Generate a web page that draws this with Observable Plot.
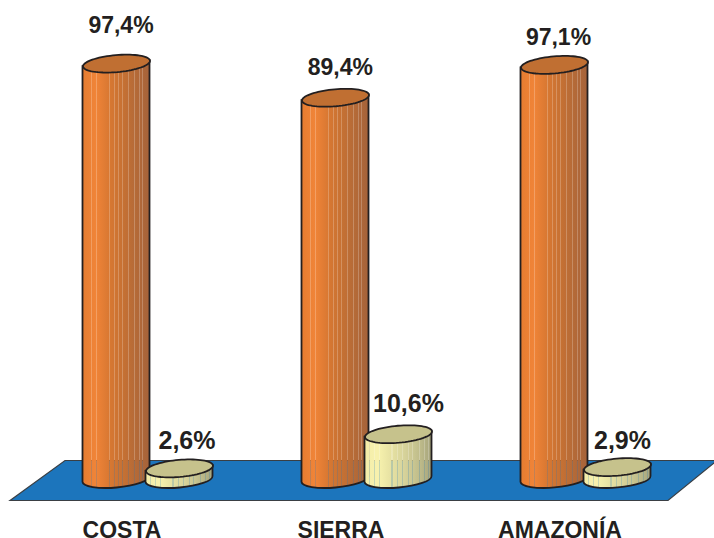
<!DOCTYPE html>
<html><head><meta charset="utf-8">
<script src="https://cdn.jsdelivr.net/npm/d3@7"></script>
<script src="https://cdn.jsdelivr.net/npm/@observablehq/plot@0.6"></script>
<style>html,body{margin:0;padding:0;background:#fff}svg{display:block}</style>
</head><body><div id="chart"></div>
<script>
// Data
const regions = ["COSTA", "SIERRA", "AMAZONÍA"];
const mainValues = [97.4, 89.4, 97.1];
const otherValues = [2.6, 10.6, 2.9];
const mainLabels = ["97,4%", "89,4%", "97,1%"];
const otherLabels = ["2,6%", "10,6%", "2,9%"];

// Style
const main = {body: "url(#orangeBody)", top: "#c06f32", dx: -31.5, fontSize: 23};
const other = {body: "url(#yellowBody)", top: "#c6c28c", dx: 31.5, fontSize: 25};
const ink = "#231f20";
const labelFont = {fontFamily: "Liberation Sans", fontWeight: "bold", fill: ink};
const rx = 33.6, ry = 8.5, tilt = -5;               // cylinder cap, px
const capDy = 2.9;                                  // vertical offset of cap extremes
const mainOffsets = [[4.5, -38], [4.8, -30], [4, -27]];
const otherOffsets = [[7.5, -27], [10, -30], [5, -26]];

const toTable = (values, labels, offsets) => regions.map((region, i) => ({
  region, value: values[i], label: labels[i], ox: offsets[i][0], oy: offsets[i][1]
}));
const mainRows = toTable(mainValues, mainLabels, mainOffsets);
const otherRows = toTable(otherValues, otherLabels, otherOffsets);

// Tilted ellipse as a Plot symbol
const cap = {
  draw(ctx) {
    const c = Math.cos(tilt * Math.PI / 180), s = Math.sin(tilt * Math.PI / 180);
    for (let i = 0; i < 72; ++i) {
      const t = i / 72 * 2 * Math.PI, a = rx * Math.cos(t), b = ry * Math.sin(t);
      const px = a * c - b * s, py = a * s + b * c;
      if (i) ctx.lineTo(px, py); else ctx.moveTo(px, py);
    }
    ctx.closePath();
  }
};
// Floor parallelogram as a Plot symbol, placed on the axis at SIERRA
const floorShape = {
  draw(ctx) {
    ctx.moveTo(-357, 21); ctx.lineTo(-302, -19); ctx.lineTo(350, -19); ctx.lineTo(301, 21); ctx.closePath();
  }
};
// Turn each bar's rect into a cylinder side: straight walls and a rounded bottom
const cylinder = (index, scales, values, dimensions, context, next) => {
  const g = next(index, scales, values, dimensions, context);
  d3.select(g).selectAll("rect").each(function() {
    const r = d3.select(this);
    const x = +r.attr("x"), y = +r.attr("y"), w = +r.attr("width"), h = +r.attr("height");
    const p = document.createElementNS("http://www.w3.org/2000/svg", "path");
    p.setAttribute("d", `M${x},${y + capDy}L${x},${y + h + capDy}A${rx},${ry} ${tilt} 0 0 ${x + w},${y + h - capDy}L${x + w},${y - capDy}Z`);
    this.parentNode.replaceChild(p, this);
  });
  return g;
};

const cylinderMarks = (rows, s) => [
  Plot.barY(rows, {x: "region", y: "value", dx: s.dx, fill: s.body, stroke: ink, strokeWidth: 1.8, render: cylinder}),
  Plot.dot(rows, {x: "region", y: "value", dx: s.dx, symbol: cap, r: 10, fill: s.top, stroke: ink, strokeWidth: 1.8})
];
const labelMarks = (rows, s) => rows.map(d => Plot.text([d], {
  x: "region", y: "value", text: "label", dx: d.ox + s.dx, dy: d.oy, fontSize: s.fontSize, ...labelFont
}));

const chart = Plot.plot({
  width: 714, height: 538,
  marginTop: 52, marginBottom: 8, marginLeft: 113.5, marginRight: 94,
  style: {background: "transparent"},
  x: {type: "band", domain: regions, range: [113.5, 620], paddingInner: 0.695, paddingOuter: 0, label: null, axis: null},
  y: {domain: [0, 100], range: [479, 52], label: null, axis: null},
  marks: [
    Plot.dot(["SIERRA"], {x: d => d, y: () => 0, symbol: floorShape, r: 10, fill: "#1c75bc", stroke: "#3a3f44", strokeWidth: 1.2}),
    ...cylinderMarks(mainRows, main),
    ...cylinderMarks(otherRows, other),
    ...labelMarks(mainRows, main),
    ...labelMarks(otherRows, other),
    Plot.axisX({anchor: "bottom", tickSize: 0, tickPadding: 0, lineAnchor: "middle", dx: -26, fontFamily: "Liberation Sans", fontWeight: "bold", fontSize: 23, fill: ink, label: null})
  ]
});

// Gradients with stripes of partial transparency, so the floor shows through
const stripes = {
  orangeBody: {colors: ["#e57c30", "#f08438", "#d87832", "#c67133", "#b46a38", "#a5623a"], at: [.13, .21, .4, .48, .54, .6, .68, .77, .85, .9]},
  yellowBody: {colors: ["#f2eca9", "#f8f2ae", "#e6e1a2", "#d6d29a", "#c2bf8c", "#a5a47c"], at: [.08, .15, .22, .41, .49, .57, .65, .72, .82, .9, .96]}
};
const defs = d3.select(chart).append("defs");
for (const [id, s] of Object.entries(stripes)) {
  const grad = defs.append("linearGradient").attr("id", id);
  const color = d3.scaleLinear().domain(s.colors.map((_, i) => i / (s.colors.length - 1))).range(s.colors);
  const w = 0.008;
  const stop = (o, op) => grad.append("stop").attr("offset", o).attr("stop-color", color(o)).attr("stop-opacity", op);
  stop(0, 1);
  for (const a of s.at) {
    stop(a - w, 1); stop(a - w, 0.78); stop(a + w, 0.78); stop(a + w, 1);
  }
  stop(1, 1);
}
document.getElementById("chart").appendChild(chart);
</script></body></html>
